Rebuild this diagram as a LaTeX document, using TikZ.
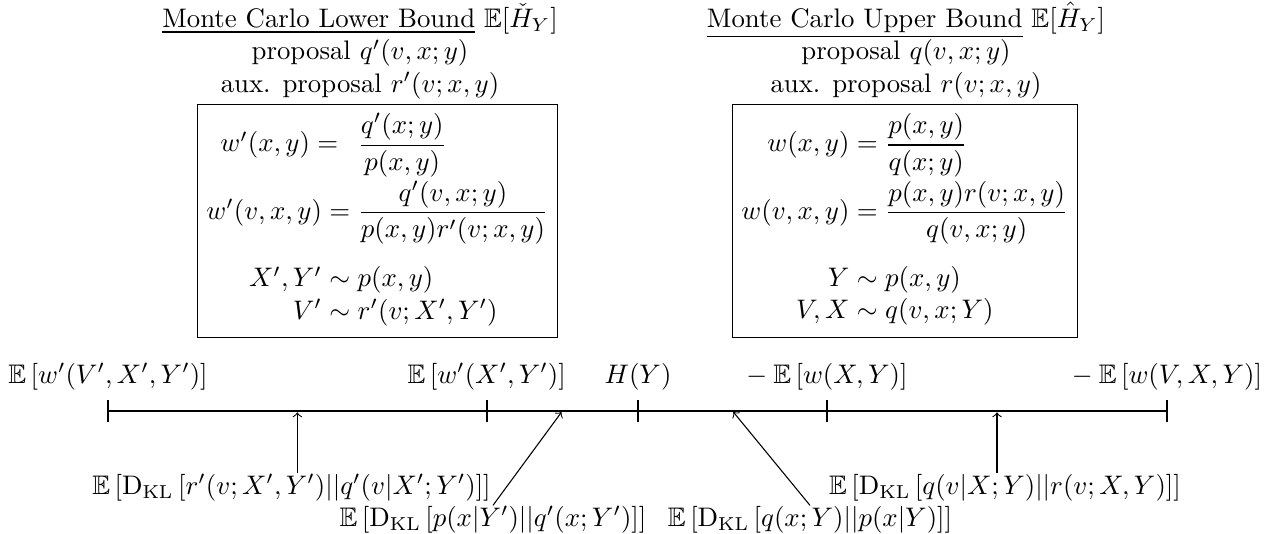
\documentclass[tikz,border=0pt]{standalone}
\usepackage{amsmath,amssymb}
\usetikzlibrary{calc}
\begin{document}
\begin{tikzpicture}[x=0.373pt,y=-0.373pt,
  ttl/.style={align=center,anchor=base,inner sep=0pt},
  eqbox/.style={draw,anchor=north west,inner sep=3.33pt},
  axislbl/.style={anchor=base,inner sep=0pt},
  kl/.style={anchor=base,inner sep=0pt},
  axisline/.style={thick},
  tick/.style={thick},
  pointer/.style={->,shorten >=0.5pt}]
\useasboundingbox (0,0) rectangle (1276,533);
% titles
\node[ttl] (ltitle) at (360,92) {\underline{Monte Carlo Lower Bound} $\mathbb{E}[\check{H}_Y]$\\ proposal $q'(v,x;y)$\\ aux. proposal $r'(v;x,y)$};
\node[ttl] (rtitle) at (906,92) {\underline{Monte Carlo Upper Bound} $\mathbb{E}[\hat{H}_Y]$\\ proposal $q(v,x;y)$\\ aux. proposal $r(v;x,y)$};
% boxes
\node[eqbox] (lbox) at (197,104) {$\begin{array}{@{}r@{}l@{}}
w'(x,y)={}\;\, & \displaystyle\frac{q'(x;y)}{p(x,y)}\\ \noalign{\vskip 1.6pt}
w'(v,x,y)={} & \displaystyle\frac{q'(v,x;y)}{p(x,y)r'(v;x,y)}\\ \noalign{\vskip 7.4pt}
X',Y'\sim{} & p(x,y)\\
V'\sim{} & r'(v;X',Y')
\end{array}$};
\node[eqbox] (rbox) at (732,104) {$\begin{array}{@{}r@{}l@{}}
w(x,y)={} & \displaystyle\frac{p(x,y)}{q(x;y)}\\ \noalign{\vskip 1.6pt}
w(v,x,y)={} & \displaystyle\frac{p(x,y)r(v;x,y)}{q(v,x;y)}\\ \noalign{\vskip 7.4pt}
Y\sim{} & p(x,y)\\
V,X\sim{} & q(v,x;Y)
\end{array}$};
% axis
\coordinate (t1) at (108,411);
\coordinate (t2) at (486.7,411);
\coordinate (t3) at (638,411);
\coordinate (t4) at (827,411);
\coordinate (t5) at (1167,411);
\draw[axisline] (t1) -- (t5);
\foreach \t in {t1,t2,t3,t4,t5}
  \draw[tick] ([yshift=4pt]\t) -- ([yshift=-4pt]\t);
\node[axislbl] (l1) at (108,383) {$\mathbb{E}\left[w'(V',X',Y')\right]$};
\node[axislbl] (l2) at (486.7,383) {$\mathbb{E}\left[w'(X',Y')\right]$};
\node[axislbl] (l3) at (638,383) {$H(Y)$};
\node[axislbl] (l4) at (827,383) {$-\mskip\medmuskip\mathbb{E}\left[w(X,Y)\right]$};
\node[axislbl] (l5) at (1167,383) {$-\mskip\medmuskip\mathbb{E}\left[w(V,X,Y)\right]$};
% arrow targets on the axis
\coordinate (m1) at ($(t1)!0.5!(t2)$);
\coordinate (m2) at ($(t2)!0.5!(t3)$);
\coordinate (m3) at ($(t3)!0.5!(t4)$);
\coordinate (m4) at ($(t4)!0.5!(t5)$);
% KL labels
\node[kl] (k1) at (291.5,494) {$\mathbb{E}\left[\mathrm{D}_{\mathrm{KL}}\left[r'(v;X',Y')||q'(v|X';Y')\right]\right]$};
\node[kl] (k2) at (493,526) {$\mathbb{E}\left[\mathrm{D}_{\mathrm{KL}}\left[p(x|Y')||q'(x;Y')\right]\right]$};
\node[kl] (k3) at (810,526) {$\mathbb{E}\left[\mathrm{D}_{\mathrm{KL}}\left[q(x;Y)||p(x|Y)\right]\right]$};
\node[kl] (k4) at (1005,494) {$\mathbb{E}\left[\mathrm{D}_{\mathrm{KL}}\left[q(v|X;Y)||r(v;X,Y)\right]\right]$};
\draw[pointer] (k1.north -| m1) -- (m1);
\draw[pointer] (k2.north) -- (m2);
\draw[pointer] (k3.north) -- (m3);
\draw[pointer] (k4.north -| m4) -- (m4);
\end{tikzpicture}
\end{document}
